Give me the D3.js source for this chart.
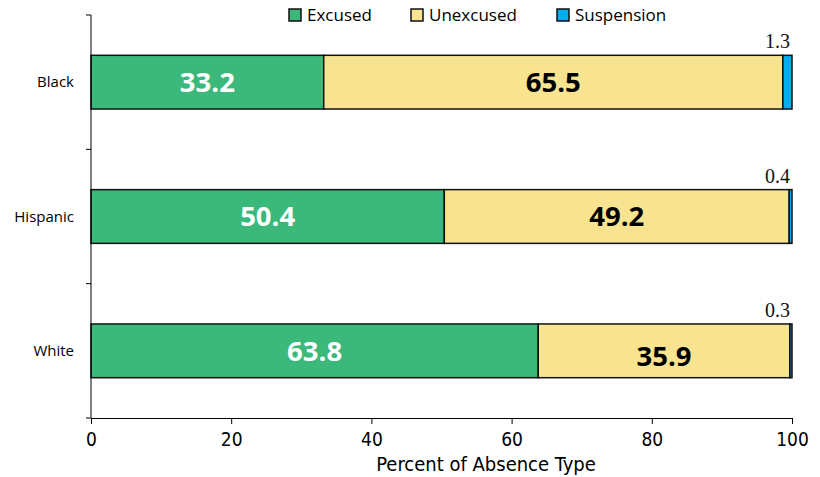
<!DOCTYPE html>
<html>
<head>
<meta charset="utf-8">
<script src="https://cdn.jsdelivr.net/npm/d3@7"></script>
<style>
body{margin:0;background:#fff}
svg{display:block}
</style>
</head>
<body>
<svg width="820" height="477"></svg>
<script>
const groups=["Black","Hispanic","White"]
const types=["Excused","Unexcused","Suspension"]
const excused=[33.2,50.4,63.8]
const unexcused=[65.5,49.2,35.9]
const suspension=[1.3,0.4,0.3]
const xTicks=[0,20,40,60,80,100]
const colors=["#3bb97b","#f8e390","#00adee"]
const narrow="'DejaVu Sans Condensed','Liberation Sans Narrow',sans-serif"

const svg=d3.select("svg")
const m={l:91,r:28,t:15,b:59}
const W=820,H=477
const x=d3.scaleLinear().domain([0,100]).range([m.l,W-m.r])
const y=d3.scaleBand().domain(groups).range([m.t,H-m.b]).paddingInner(0.6).paddingOuter(0.3)

// stacked rows
const rows=groups.map((g,i)=>({g,Excused:excused[i],Unexcused:unexcused[i],Suspension:suspension[i]}))
const series=d3.stack().keys(types)(rows)

svg.append("g").selectAll("g").data(series).join("g")
.attr("fill",(d,i)=>colors[i])
.selectAll("rect").data(d=>d).join("rect")
.attr("x",d=>x(d[0])).attr("y",d=>y(d.data.g))
.attr("width",d=>x(d[1])-x(d[0])).attr("height",y.bandwidth())
.attr("stroke","#111").attr("stroke-width",1.5)

// value labels inside bars
series.slice(0,2).forEach((s,k)=>{
svg.append("g").selectAll("text").data(s).join("text")
.attr("x",d=>(x(d[0])+x(d[1]))/2)
.attr("y",d=>y(d.data.g)+y.bandwidth()/2+ (k==1&&d.data.g=="White"?5:0))
.attr("dy","0.36em").attr("text-anchor","middle")
.attr("font-family","'Open Sans',sans-serif").attr("font-weight","bold").attr("font-size",27.5)
.attr("fill",k==0?"#fff":"#000")
.text(d=>d.data[types[k]].toFixed(1))
})
// suspension labels above bars
svg.append("g").selectAll("text").data(series[2]).join("text")
.attr("x",x(100)-2).attr("y",d=>y(d.data.g)-7)
.attr("text-anchor","end")
.attr("font-family","'Liberation Serif',serif").attr("font-size",20).attr("fill","#111")
.text(d=>d.data.Suspension.toFixed(1))

// y axis
const yTickPos=[0,1,2,3].map(i=>m.t+i*y.step())
const ya=svg.append("g")
ya.append("line").attr("x1",m.l).attr("x2",m.l).attr("y1",m.t).attr("y2",H-m.b).attr("stroke","#000")
ya.selectAll("line.t").data(yTickPos).join("line").attr("class","t")
.attr("x1",m.l-5).attr("x2",m.l).attr("y1",d=>d).attr("y2",d=>d).attr("stroke","#000")
ya.selectAll("text").data(groups).join("text")
.attr("x",m.l-17).attr("y",d=>y(d)+y.bandwidth()/2).attr("dy","0.35em")
.attr("text-anchor","end").attr("font-family","'Open Sans',sans-serif").attr("font-size",15).attr("fill","#000")
.text(d=>d)

// x axis
const xa=svg.append("g").attr("transform",`translate(0,${H-m.b})`)
.call(d3.axisBottom(x).tickValues(xTicks).tickSize(6).tickSizeOuter(0).tickPadding(9))
xa.select(".domain").attr("stroke","#000")
xa.selectAll("line").attr("stroke","#000")
xa.selectAll("text").attr("font-family",narrow).attr("font-size",19).attr("fill","#000")

svg.append("text").attr("x",486).attr("y",471).attr("text-anchor","middle")
.attr("font-family",narrow).attr("font-size",20).attr("fill","#000")
.text("Percent of Absence Type")

// legend
const lx=[289,411,557]
const lg=svg.append("g").selectAll("g").data(types).join("g")
.attr("transform",(d,i)=>`translate(${lx[i]},9)`)
lg.append("rect").attr("width",12).attr("height",12).attr("fill",(d,i)=>colors[i]).attr("stroke","#111").attr("stroke-width",1.5)
lg.append("text").attr("x",18).attr("y",6).attr("dy","0.36em")
.attr("font-family","'Open Sans',sans-serif").attr("font-size",17).attr("fill","#000").text(d=>d)
</script>
</body>
</html>
